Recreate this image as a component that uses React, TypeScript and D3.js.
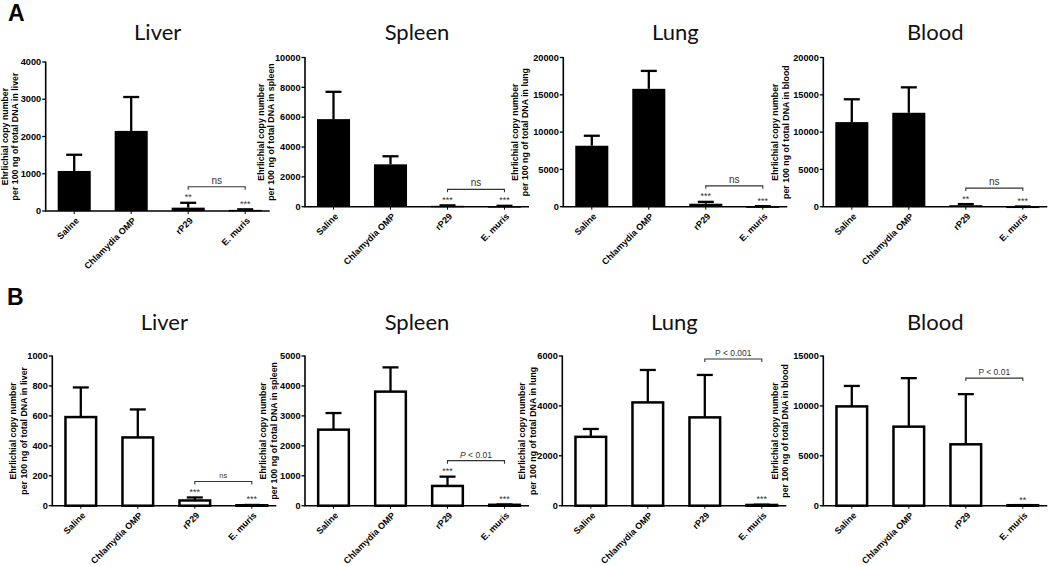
import React from "react";
import * as d3 from "d3";

const categories = ["Saline", "Chlamydia OMP", "rP29", "E. muris"];
const organs = ["Liver", "Spleen", "Lung", "Blood"];

// Panel A (filled bars)
const liverA = [1075, 2150, 90, 30];
const liverAErr = [1510, 3060, 220, 45];
const spleenA = [5870, 2840, 60, 40];
const spleenAErr = [7700, 3380, 90, 60];
const lungA = [8170, 15800, 400, 50];
const lungAErr = [9510, 18200, 650, 70];
const bloodA = [11340, 12590, 200, 20];
const bloodAErr = [14400, 16000, 350, 30];

// Panel B (open bars)
const liverB = [592, 456, 35, 3];
const liverBErr = [790, 643, 55, 5];
const spleenB = [2540, 3810, 660, 30];
const spleenBErr = [3095, 4620, 970, 40];
const lungB = [2760, 4140, 3540, 30];
const lungBErr = [3075, 5440, 5240, 40];
const bloodB = [9950, 7920, 6150, 50];
const bloodBErr = [12000, 12780, 11180, 60];

const liverATicks = [0, 1000, 2000, 3000, 4000];
const spleenATicks = [0, 2000, 4000, 6000, 8000, 10000];
const lungATicks = [0, 5000, 10000, 15000, 20000];
const bloodATicks = [0, 5000, 10000, 15000, 20000];
const liverBTicks = [0, 200, 400, 600, 800, 1000];
const spleenBTicks = [0, 1000, 2000, 3000, 4000, 5000];
const lungBTicks = [0, 2000, 4000, 6000];
const bloodBTicks = [0, 5000, 10000, 15000];

const starsLiverA = ["", "", "**", "***"];
const starsSpleenA = ["", "", "***", "***"];
const starsLungA = ["", "", "***", "***"];
const starsBloodA = ["", "", "**", "***"];
const starsLiverB = ["", "", "***", "***"];
const starsSpleenB = ["", "", "***", "***"];
const starsLungB = ["", "", "", "***"];
const starsBloodB = ["", "", "", "**"];

const bracketLabelsA = ["ns", "ns", "ns", "ns"];
const bracketLabelsB = ["ns", "P < 0.01", "P < 0.001", "P < 0.01"];
const italicPB = [false, true, false, false];

type Panel = {
  organ: string;
  means: number[];
  errs: number[];
  ticks: number[];
  stars: string[];
  bracket: string;
  italicP: boolean;
  filled: boolean;
  axisX: number;
  top: number;
  bottom: number;
  bracketFont: number;
  lab1: number;
  lab2: number;
};

const rowA = [
  [liverA, liverAErr, liverATicks, starsLiverA],
  [spleenA, spleenAErr, spleenATicks, starsSpleenA],
  [lungA, lungAErr, lungATicks, starsLungA],
  [bloodA, bloodAErr, bloodATicks, starsBloodA],
] as const;
const rowB = [
  [liverB, liverBErr, liverBTicks, starsLiverB],
  [spleenB, spleenBErr, spleenBTicks, starsSpleenB],
  [lungB, lungBErr, lungBTicks, starsLungB],
  [bloodB, bloodBErr, bloodBTicks, starsBloodB],
] as const;

// layout
const axisXA = [45.7, 305, 563.3, 823.3];
const axisXB = [52.3, 305, 562.3, 823.3];
const labOffA = [[-38, -28], [-41, -31], [-45, -35], [-45, -34]];
const labOffB = [[-36, -25.5], [-39, -28], [-37, -26.5], [-45, -35]];

const panels: Panel[] = [
  ...rowA.map((r, i) => ({
    organ: organs[i],
    means: r[0] as number[],
    errs: r[1] as number[],
    ticks: r[2] as number[],
    stars: r[3] as string[],
    bracket: bracketLabelsA[i],
    italicP: false,
    filled: true,
    axisX: axisXA[i],
    top: i === 0 ? 62 : 57.5,
    bottom: i === 0 ? 211 : 206.7,
    bracketFont: 10,
    lab1: labOffA[i][0],
    lab2: labOffA[i][1],
  })),
  ...rowB.map((r, i) => ({
    organ: organs[i],
    means: r[0] as number[],
    errs: r[1] as number[],
    ticks: r[2] as number[],
    stars: r[3] as string[],
    bracket: bracketLabelsB[i],
    italicP: italicPB[i],
    filled: false,
    axisX: axisXB[i],
    top: 356,
    bottom: 505.7,
    bracketFont: i === 0 ? 7.5 : 8.5,
    lab1: labOffB[i][0],
    lab2: labOffB[i][1],
  })),
];

const FONT = "'Liberation Sans', Arial, sans-serif";
const TITLE_FONT = "Lato, 'Open Sans', sans-serif";

function ChartPanel({ p }: { p: Panel }) {
  const x = d3
    .scaleBand<string>()
    .domain(categories)
    .range([p.axisX, p.axisX + 228])
    .paddingInner(0.42)
    .paddingOuter(0.21);
  const yMax = p.ticks[p.ticks.length - 1];
  const y = d3.scaleLinear().domain([0, yMax]).range([p.bottom, p.top]);
  const bw = x.bandwidth();
  const cx = (c: string) => (x(c) as number) + bw / 2;
  const midY = (p.top + p.bottom) / 2;
  const capW = 16;

  const i1 = 2;
  const i2 = 3;
  const hasStar = p.stars[i1] !== "" || p.stars[i2] !== "";
  const bracketY =
    Math.min(y(p.errs[i1]), y(p.errs[i2])) - (hasStar ? 16 : 5);
  const bx1 = cx(categories[i1]);
  const bx2 = cx(categories[i2]);

  return (
    <g>
      <text
        x={p.axisX + 112}
        y={p.filled ? 40 : 330}
        textAnchor="middle"
        fontFamily={TITLE_FONT}
        fontSize={22}
        fill="#111"
      >
        {p.organ}
      </text>
      {/* y label */}
      <g transform={`translate(${p.axisX + p.lab1},${midY}) rotate(-90)`}>
        <text textAnchor="middle" fontFamily={FONT} fontWeight="bold" fontSize={8.8}>
          Ehrlichial copy number
        </text>
      </g>
      <g transform={`translate(${p.axisX + p.lab2},${midY}) rotate(-90)`}>
        <text textAnchor="middle" fontFamily={FONT} fontWeight="bold" fontSize={8.8}>
          {`per 100 ng of total DNA in ${p.organ.toLowerCase()}`}
        </text>
      </g>
      {/* bars */}
      {categories.map((c, i) => {
        const v = p.means[i];
        const top = y(v);
        const e = y(p.errs[i]);
        return (
          <g key={c}>
            <line x1={cx(c)} x2={cx(c)} y1={top} y2={e} stroke="#000" strokeWidth={2.3} />
            <line x1={cx(c) - capW / 2} x2={cx(c) + capW / 2} y1={e} y2={e} stroke="#000" strokeWidth={2.3} />
            {p.filled ? (
              <rect x={x(c)} y={top} width={bw} height={Math.max(p.bottom - top, 1.5)} fill="#000" />
            ) : (
              <rect
                x={(x(c) as number) + 1.2}
                y={top}
                width={bw - 2.4}
                height={Math.max(p.bottom - top, 0.5)}
                fill="#fff"
                stroke="#000"
                strokeWidth={2.5}
              />
            )}
            {p.stars[i] && (
              <text
                x={cx(c)}
                y={e - 2.5}
                textAnchor="middle"
                fontFamily={FONT}
                fontSize={9}
                fill="#333"
              >
                {p.stars[i]}
              </text>
            )}
          </g>
        );
      })}
      {/* bracket */}
      <path
        d={`M${bx1},${bracketY + 3}V${bracketY}H${bx2}V${bracketY + 3}`}
        fill="none"
        stroke="#333"
        strokeWidth={1.1}
      />
      <text
        x={(bx1 + bx2) / 2}
        y={bracketY - 3}
        textAnchor="middle"
        fontFamily={FONT}
        fontSize={p.bracketFont}
        fill="#333"
      >
        {p.italicP ? (
          <>
            <tspan fontStyle="italic">P</tspan>
            {p.bracket.slice(1)}
          </>
        ) : (
          p.bracket
        )}
      </text>
      {/* y axis */}
      <line x1={p.axisX} x2={p.axisX} y1={p.top - 0.5} y2={p.bottom} stroke="#000" strokeWidth={1.6} />
      {p.ticks.map((t) => (
        <g key={t}>
          <line x1={p.axisX - 3.5} x2={p.axisX} y1={y(t)} y2={y(t)} stroke="#000" strokeWidth={1.3} />
          <text
            x={p.axisX - 4.5}
            y={y(t)}
            dy="0.35em"
            textAnchor="end"
            fontFamily={FONT}
            fontWeight="bold"
            fontSize={9.2}
          >
            {t}
          </text>
        </g>
      ))}
      {/* x axis */}
      <line x1={p.axisX - 0.8} x2={p.axisX + 224} y1={p.bottom} y2={p.bottom} stroke="#000" strokeWidth={1.6} />
      {categories.map((c) => (
        <g key={c}>
          <line x1={cx(c)} x2={cx(c)} y1={p.bottom} y2={p.bottom + 3} stroke="#000" strokeWidth={1} />
          <text
            transform={`translate(${cx(c) + 3},${p.bottom + 8}) rotate(-45)`}
            dy="0.35em"
            textAnchor="end"
            fontFamily={FONT}
            fontWeight="bold"
            fontSize={9}
          >
            {c}
          </text>
        </g>
      ))}
    </g>
  );
}

export default function App() {
  return (
    <svg
      width={1050}
      height={566}
      viewBox="0 0 1050 566"
      style={{ position: "absolute", left: 0, top: 0, background: "#fff" }}
    >
      <rect width={1050} height={566} fill="#fff" />
      <text x={8} y={20.5} fontFamily={FONT} fontWeight="bold" fontSize={23}>
        A
      </text>
      <text x={7} y={305} fontFamily={FONT} fontWeight="bold" fontSize={23}>
        B
      </text>
      {panels.map((p, i) => (
        <ChartPanel key={i} p={p} />
      ))}
    </svg>
  );
}
